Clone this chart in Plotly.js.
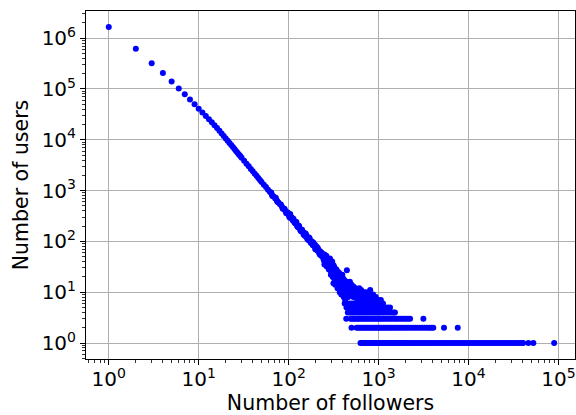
<!DOCTYPE html>
<html>
<head>
<meta charset="utf-8">
<script src="https://cdn.plot.ly/plotly-3.0.1.min.js"></script>
<style>html,body{margin:0;padding:0;background:#fff;}#chart{width:576px;height:415px;}</style>
</head>
<body>
<div id="chart"></div>
<script>
// Main ridge: number of followers -> number of users
const headFollowers = [
  1, 2, 3, 4, 5, 6, 7, 8, 9, 10,
  11, 12, 13, 14, 15, 16, 17, 18, 19, 20,
  21, 22, 23, 24, 25, 26, 27, 28, 29, 30,
  32, 34, 36, 38, 40, 42, 44, 46, 48, 50,
  53, 56, 59, 62, 65, 68, 71, 74, 77, 80,
  84, 88, 92, 96, 100, 105, 110, 115, 120, 126,
  132, 138, 144, 150, 158, 166, 175, 184, 194, 205,
  216, 228, 240
];
const headUsers = [
  1660000, 620000, 320000, 207000, 141000, 102000, 79000, 62000, 50000, 41000,
  34400, 29400, 25400, 22100, 19300, 17000, 15000, 13300, 11900, 10600,
  9550, 8650, 7870, 7180, 6560, 6040, 5570, 5150, 4780, 4440,
  3860, 3390, 3000, 2660, 2390, 2140, 1950, 1760, 1620, 1480,
  1310, 1170, 1040, 935, 840, 765, 700, 640, 586, 540,
  488, 440, 400, 365, 334, 300, 272, 248, 226, 204,
  184, 168, 152, 140, 125, 112, 100, 90, 80, 71,
  63, 56, 50
];
// Scatter around the ridge
const spreadFollowers = [
  64, 66, 72, 75, 82, 86, 90, 94, 98, 102,
  108, 112, 118, 124, 128, 135, 141, 147, 153, 162,
  170, 178, 188, 198, 210, 222, 235, 245,
  104, 106, 113, 117, 122, 127, 131, 137, 142, 146,
  152, 156, 160, 164, 168, 172, 176, 181, 186, 190,
  196, 200, 203, 208, 213, 218, 224, 230, 233, 238,
  243, 247
];
const spreadUsers = [
  920, 780, 720, 600, 530, 440, 440, 360, 370, 300,
  300, 255, 245, 200, 205, 165, 170, 135, 145, 110,
  118, 92, 95, 70, 75, 55, 58, 44,
  345, 285, 280, 230, 240, 190, 200, 158, 160, 150,
  128, 138, 118, 122, 104, 110, 96, 100, 84, 88,
  86, 72, 80, 66, 70, 60, 64, 52, 60, 54,
  48, 52
];
// Noisy tail (counts of 7 and more)
const tailFollowers = [
  250, 250, 250,
  265, 265, 265,
  280, 280, 280, 280,
  295, 295, 295, 295,
  310, 310, 310, 310,
  315, 330, 350,
  325, 325, 325, 325,
  340, 340, 340, 340,
  355, 355, 355, 355, 355,
  370, 370, 370, 370, 370,
  385, 385, 385, 385, 385, 385,
  400, 400, 400, 400, 400,
  410, 425,
  420, 420, 420, 420, 420,
  444, 444, 444, 444, 444,
  460, 460, 460, 460,
  480, 480, 480, 480,
  500, 500, 500, 500,
  525, 525, 525, 525,
  550, 550, 550, 550,
  580, 580, 580, 580,
  610, 610, 610, 610,
  640, 640, 640, 640,
  680, 680, 680, 680,
  720, 720, 720, 720,
  760, 760, 760,
  807, 807, 807, 807,
  850, 850, 900, 900, 950, 1000, 1060,
  255, 258, 262, 270, 272, 276, 285, 288, 290, 300,
  302, 305, 318, 320, 322, 333, 336, 345, 348, 360,
  362, 365, 375, 378, 390, 392, 395, 405, 408, 415,
  430, 435, 438, 450, 455, 470, 475, 490, 510, 515,
  530, 540, 560, 570, 590, 600, 620, 650, 660, 700,
  740, 780, 820, 870, 930, 980
];
const tailUsers = [
  40, 55, 35,
  38, 48, 32,
  30, 42, 36, 28,
  26, 38, 32, 22,
  24, 35, 20, 30,
  15, 14, 12,
  22, 30, 18, 26,
  19, 28, 16, 23,
  17, 25, 14, 21, 12,
  15, 22, 13, 19, 10,
  14, 20, 12, 17, 10, 9,
  13, 19, 11, 16, 9,
  8, 7,
  12, 17, 10, 14, 8,
  27, 11, 15, 9, 13,
  10, 14, 8, 12,
  9, 13, 11, 16,
  9, 12, 10, 14,
  8, 11, 9, 13,
  8, 10, 12, 9,
  7, 9, 11, 8,
  7, 10, 8, 12,
  9, 8, 11, 7,
  8, 10, 9, 7,
  8, 9, 7, 10,
  7, 9, 8,
  11, 8, 7, 9,
  7, 8, 7, 8, 7, 7, 7,
  45, 38, 52, 44, 34, 40, 34, 46, 30, 28,
  36, 40, 33, 25, 20, 25, 18, 24, 20, 20,
  16, 24, 18, 14, 16, 12, 22, 14, 18, 12,
  14, 11, 16, 12, 10, 11, 13, 10, 11, 9,
  10, 12, 9, 11, 10, 9, 8, 10, 8, 9,
  8, 10, 8, 9, 8, 7
];
// Follower counts shared by exactly 6, 5, 4, 3, 2, 1 users
const followersWithSix = [420, 450, 480, 510, 540, 570, 600, 635, 670, 710, 750, 790, 835, 880, 930, 985, 1050, 1120];
const followersWithFive = [440, 465, 490, 515, 545, 575, 605, 640, 675, 710, 750, 790, 835, 880, 930, 985, 1040, 1100, 1170, 1250, 1340];
const followersWithFour = [455, 480, 505, 530, 560, 590, 620, 650, 685, 720, 760, 800, 840, 885, 930, 980, 1030, 1090, 1150, 1220, 1300, 1380, 1460, 1520];
const followersWithThree = [437, 490, 510, 530, 555, 580, 605, 630, 660, 690, 720, 755, 790, 830, 870, 910, 955, 1000, 1050, 1100, 1160, 1220, 1290, 1360, 1440, 1520, 1600, 1690, 1790, 1900, 2010, 2120, 2240, 3150];
const followersWithTwo = [500, 570, 595, 620, 650, 680, 710, 745, 780, 815, 855, 895, 940, 985, 1030, 1080, 1135, 1190, 1250, 1310, 1380, 1450, 1530, 1610, 1700, 1800, 1900, 2010, 2130, 2260, 2400, 2550, 2710, 2880, 3060, 3250, 3450, 3660, 3860, 4060, 5340, 7590];
const followersWithOne = [630, 650, 672, 695, 720, 745, 770, 800, 830, 860, 890, 925, 960, 1000, 1040, 1085, 1130, 1180, 1230, 1285, 1340, 1400, 1465, 1530, 1600, 1680, 1760, 1840, 1930, 2020, 2120, 2230, 2340, 2460, 2590, 2720, 2860, 3010, 3170, 3340, 3520, 3710, 3910, 4120, 4350, 4590, 4850, 5120, 5410, 5720, 6050, 6400, 6780, 7180, 7600, 8050, 8530, 9040, 9580, 10150, 10750, 11400, 12100, 12850, 13600, 14450, 15350, 16300, 17300, 18400, 19500, 20700, 22000, 23400, 24900, 26500, 28200, 30000, 32000, 34100, 36300, 38600, 40500, 46300, 52600, 89600];
const rowCounts = [6, 5, 4, 3, 2, 1];
const rowFollowers = [followersWithSix, followersWithFive, followersWithFour, followersWithThree, followersWithTwo, followersWithOne];

// Tick labels
const xTickExponents = [0, 1, 2, 3, 4, 5];
const yTickExponents = [0, 1, 2, 3, 4, 5, 6];

// Build the single scatter series
let xs = [].concat(headFollowers, spreadFollowers, tailFollowers);
let ys = [].concat(headUsers, spreadUsers, tailUsers);
rowFollowers.forEach((row, i) => {
  row.forEach(f => { xs.push(f); ys.push(rowCounts[i]); });
});

function minorVals(lo, hi) {
  const v = [];
  for (let e = lo; e <= hi; e++) for (let m = 2; m <= 9; m++) v.push(m * Math.pow(10, e));
  return v;
}

const trace = {
  type: 'scatter', mode: 'markers', x: xs, y: ys,
  marker: {color: '#0000ff', size: 6, line: {width: 0}},
  hoverinfo: 'x+y'
};

function axisBase(exps, minor, fontSize) {
  return {
    type: 'log',
    tickmode: 'array',
    tickvals: exps.map(e => Math.pow(10, e)),
    ticktext: exps.map(e => '10<sup>' + e + '</sup>'),
    ticks: 'outside', ticklen: 5, tickwidth: 1, tickcolor: 'black',
    showline: true, mirror: true, linecolor: 'black', linewidth: 1,
    showgrid: true, gridcolor: '#b0b0b0', gridwidth: 1, zeroline: false,
    tickfont: {family: 'DejaVu Sans', size: fontSize, color: 'black'},
    ticklabeloverflow: 'allow',
    minor: {tickmode: 'array', tickvals: minor, ticks: 'outside', ticklen: 3, tickwidth: 0.8, tickcolor: 'black', showgrid: false},
    automargin: false
  };
}

const xaxis = axisBase(xTickExponents, minorVals(-1, 5), 20);
xaxis.range = [-0.253, 5.184];
xaxis.ticklabelstandoff = -3;
xaxis.title = {text: 'Number of followers', font: {family: 'DejaVu Sans', size: 20.5, color: 'black'}, standoff: 6};
const yaxis = axisBase(yTickExponents, minorVals(-1, 6), 20);
yaxis.range = [-0.315, 6.535];
yaxis.title = {text: 'Number of users', font: {family: 'DejaVu Sans', size: 20.5, color: 'black'}, standoff: 7};

const layout = {
  width: 576, height: 415,
  margin: {l: 86, r: 1, t: 11, b: 56, pad: 0},
  paper_bgcolor: 'white', plot_bgcolor: 'white',
  font: {family: 'DejaVu Sans', color: 'black'},
  showlegend: false,
  xaxis: xaxis, yaxis: yaxis
};

Plotly.newPlot('chart', [trace], layout, {staticPlot: true, displayModeBar: false});
</script>
</body>
</html>
